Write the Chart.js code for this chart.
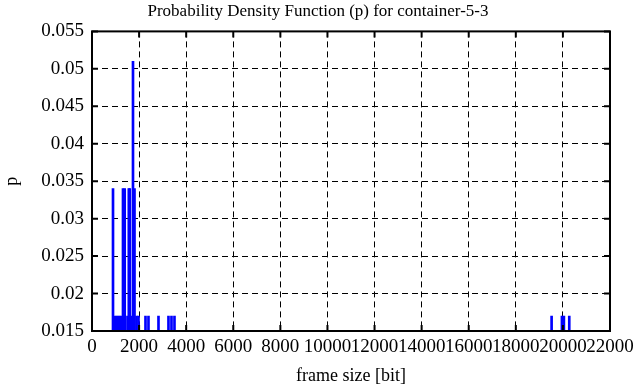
<!DOCTYPE html>
<html>
<head>
<meta charset="utf-8">
<script src="https://cdn.jsdelivr.net/npm/chart.js@4"></script>
<style>
  html, body { margin: 0; padding: 0; background: #fff; }
  #wrap { width: 636px; height: 387px; }
</style>
</head>
<body>
<div id="wrap"><canvas id="pdf"></canvas></div>
<script>
// PDF of frame sizes, impulses
const frameSizes = [892, 977, 1062, 1147, 1231, 1316, 1389, 1507, 1563, 1605, 1677, 1741, 1805, 1890, 1975,
  2272, 2399, 2824, 3248, 3376, 3503, 19520, 19958, 20042, 20270];
const probs = [0.034, 0.017, 0.017, 0.017, 0.017, 0.034, 0.034, 0.017, 0.034, 0.034, 0.017, 0.051, 0.034, 0.017, 0.017,
  0.017, 0.017, 0.017, 0.017, 0.017, 0.017, 0.017, 0.017, 0.017, 0.017];
const xTicks = [0, 2000, 4000, 6000, 8000, 10000, 12000, 14000, 16000, 18000, 20000, 22000];
const yTicks = [0.015, 0.02, 0.025, 0.03, 0.035, 0.04, 0.045, 0.05, 0.055];

const serif = "'Liberation Serif', 'DejaVu Serif', serif";

// gnuplot style box + inward tick marks (mirrored)
const frameBox = {
  id: 'frameBox',
  afterDraw(chart) {
    const { ctx, chartArea: a, scales } = chart;
    ctx.save();
    ctx.strokeStyle = '#000';
    ctx.lineWidth = 2;
    ctx.beginPath();
    xTicks.forEach(v => {
      const px = scales.x.getPixelForValue(v);
      ctx.moveTo(px, a.bottom); ctx.lineTo(px, a.bottom - 6);
      ctx.moveTo(px, a.top); ctx.lineTo(px, a.top + 6);
    });
    yTicks.forEach(v => {
      const py = scales.y.getPixelForValue(v);
      ctx.moveTo(a.left, py); ctx.lineTo(a.left + 6, py);
      ctx.moveTo(a.right, py); ctx.lineTo(a.right - 6, py);
    });
    ctx.stroke();
    ctx.strokeRect(a.left, a.top, a.right - a.left, a.bottom - a.top);
    ctx.restore();
  }
};

new Chart(document.getElementById('pdf'), {
  type: 'bar',
  data: {
    datasets: [{
      data: frameSizes.map((x, i) => ({ x, y: probs[i] })),
      backgroundColor: '#0000ff',
      borderWidth: 0,
      barThickness: 2,
    }],
  },
  options: {
    responsive: true,
    maintainAspectRatio: false,
    animation: false,
    layout: { padding: 0 },
    plugins: {
      legend: { display: false },
      tooltip: { enabled: false },
      title: {
        display: true,
        text: 'Probability Density Function (p) for container-5-3',
        color: '#000',
        font: { family: serif, size: 17, weight: 'normal' },
        padding: { top: 1, bottom: 10 },
      },
    },
    scales: {
      x: {
        type: 'linear',
        min: 0,
        max: 22000,
        offset: false,
        afterBuildTicks: s => { s.ticks = xTicks.map(v => ({ value: v })); },
        afterFit: s => { s.height = 56; s.paddingLeft = 0; s.paddingRight = 26; },
        ticks: { color: '#000', font: { family: serif, size: 19 }, padding: 5, maxRotation: 0, autoSkip: false, callback: v => String(v) },
        grid: { color: '#000', lineWidth: 1, drawTicks: false, offset: false },
        border: { display: false, dash: [6, 4] },
        title: { display: true, text: 'frame size [bit]', color: '#000', font: { family: serif, size: 18 }, padding: { top: 2, bottom: 0 } },
      },
      y: {
        min: 0.015,
        max: 0.055,
        afterBuildTicks: s => { s.ticks = yTicks.map(v => ({ value: v })); },
        afterFit: s => { s.width = 92; },
        ticks: { color: '#000', font: { family: serif, size: 19 }, padding: 8, callback: v => String(+v.toFixed(3)) },
        grid: { color: '#000', lineWidth: 1, drawTicks: false },
        border: { display: false, dash: [6, 4] },
        title: { display: true, text: 'p', color: '#000', font: { family: serif, size: 18 }, padding: { top: 1, bottom: 0 } },
      },
    },
  },
  plugins: [frameBox],
});
</script>
</body>
</html>
